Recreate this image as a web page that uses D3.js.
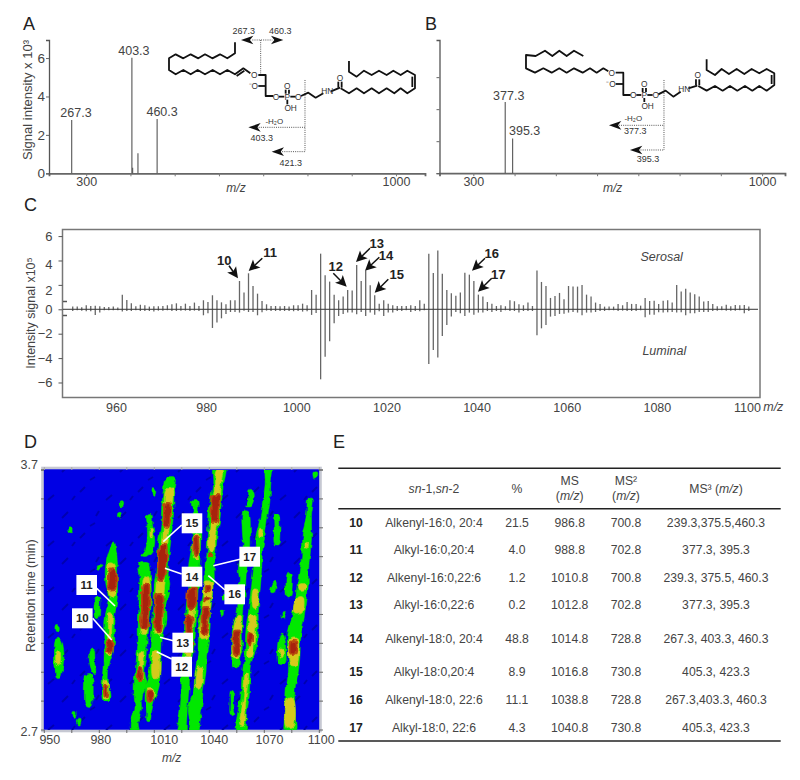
<!DOCTYPE html>
<html>
<head>
<meta charset="utf-8">
<script src="https://cdn.jsdelivr.net/npm/d3@7"></script>
<style>
body { margin: 0; background: #fff; }
svg { display: block; }
text { font-family: "Liberation Sans", Arial, sans-serif; fill: #444; }
</style>
</head>
<body>
<script>
// panel A and B spectra
let mzA = [267.3, 403.3, 405, 417, 460.3];
let intensityA = [2.78, 6.02, 0.29, 1.04, 2.83];
let peakLabelsA = ["267.3", "403.3", "", "", "460.3"];
let mzB = [377.3, 395.3];
let intensityB = [2.22, 1.08];
let peakLabelsB = ["377.3", "395.3"];
let ticksAB = [300, 400, 500, 600, 700, 800, 900, 1000];

// panel C, one value per nominal mass, starts at 950.4
let serosal = [.22,.22,.16,.33,.27,.30,.25,.19,.19,.22,.14,1.2,.77,.49,.25,.38,.33,.22,.25,.25,.27,.33,.41,.49,.27,.46,.27,.55,.27,.74,
  .60,1.15,.74,.57,.41,.74,.74,2.32,1.37,2.95,1.91,1.28,.68,.41,.27,.27,.25,.27,.22,.33,.33,.46,.33,1.58,1.2,4.56,2.79,2.27,1.2,.74,
  1.04,1.58,1.53,3.63,2.32,3.17,1.97,1.15,.46,.74,.46,.33,.27,.27,.27,.33,.27,.74,.46,4.56,2.98,4.81,2.92,1.58,1.31,1.12,1.37,3.0,2.84,2.32,
  1.2,1.04,.6,.46,.27,.33,.25,.74,.66,.41,.33,.55,.27,3.17,2.24,1.91,.93,1.09,1.34,.82,1.91,1.86,1.86,1.99,1.2,1.04,.55,.44,.22,.22,
  .22,.44,.33,.6,.44,.44,.3,.93,.68,.71,.44,.71,.74,.55,1.99,1.45,1.69,1.37,1.23,1.04,.63,.68,.44,.25,.25,.38,.25,.36,.33,.36,.22];
let luminal = [.14,.08,.11,.16,.16,.46,.27,.08,.08,.08,.08,.19,.14,.14,.08,.14,.14,.14,.19,.11,.11,.08,.14,.14,.11,.11,.14,.11,.14,.49,
  .33,1.53,1.09,.74,.38,.22,.22,.27,.11,.22,.22,.49,.25,.11,.14,.14,.14,.14,.14,.16,.14,.19,.16,.46,.3,5.74,3.88,2.62,1.15,.55,
  .38,.27,.27,.41,.22,.55,.27,.44,.16,.55,.27,.27,.14,.14,.08,.22,.14,.16,.08,4.48,3.33,3.96,2.19,1.28,.6,.22,.33,.55,.27,.44,
  .27,.27,.14,.22,.14,.22,.08,.14,.14,.27,.14,.14,.14,2.13,1.56,1.28,.6,.55,.38,.36,.27,.22,.27,.49,.27,.27,.22,.14,.14,.08,
  .08,.14,.11,.14,.14,.14,.08,.66,.44,.44,.25,.27,.25,.22,.27,.25,.49,.33,.33,.22,.22,.22,.14,.11,.08,.11,.11,.11,.08,.33,.14];
let ticksCx = [960, 980, 1000, 1020, 1040, 1060, 1080, 1100];
let ticksCy = [-6, -4, -2, 0, 2, 4, 6];

// panel D, contour outlines, each row is [rt, m/z left, m/z right]
let greenBands = [
  [[3.05,956.3,958.9],[3,955.4,960.7],[2.95,955.8,960.3],[2.9,956.7,958.5]],
  [[3.21,978.5,980],[3.18,977.2,980.3],[3.13,977.8,979.6]],
  [[3.01,975.8,977.2],[2.98,974,977.6],[2.95,974.5,978.1],[2.92,975.8,978.5]],
  [[2.91,973,975.8],[2.85,971.8,976.7],[2.79,973,975.8]],
  [[3.42,987.4,988.2],[3.38,984.9,989.4],[3.33,983.4,990],[3.27,983.4,990],[3.21,984.9,989.8],[3.17,984,989.1],[3.12,983,988],[3.05,983,988.5],[2.99,982.1,987.2],[2.95,982.1,985.4],[2.89,981.6,984.9],[2.82,981.6,985.8],[2.81,982.5,984.9]],
  [[3.53,1005.8,1008.5],[3.49,1006.1,1009],[3.43,1006.1,1010.3],[3.39,1004.9,1009.4],[3.37,1002.7,1006.7]],
  [[3.34,1001.8,1007.2],[3.29,1002.1,1008],[3.21,1001.8,1008.5],[3.1,1001.2,1007.2],[3.04,1001.2,1006.1],[2.98,1000.3,1005.4],[2.92,999.4,1004.3],[2.87,999,1005.8],[2.83,999,1003],[2.78,999.4,1003],[2.73,997,1001.2],[2.69,997.6,1001.6]],
  [[3.67,1016.3,1021.2],[3.62,1014.9,1020.7],[3.55,1014,1020.7],[3.49,1013.6,1020],[3.42,1012.1,1018.9],[3.36,1011.6,1018],[3.3,1010.7,1017.6],[3.26,1010,1018.5],[3.18,1009.8,1016.3],[3.12,1009,1016.3],[3.07,1008.5,1014.5],[3,1007.6,1014],[2.94,1007.6,1013.1],[2.87,1005.4,1012.7],[2.82,1004.9,1010.3],[2.77,1005.8,1008.5],[2.73,1006.1,1007.6]],
  [[3.58,1030.9,1033.5],[3.54,1031.3,1034],[3.48,1030.9,1035.3],[3.41,1030.4,1035.3],[3.35,1029.1,1034.9],[3.28,1028,1034.5],[3.23,1028.4,1033.8],[3.17,1027.3,1033.5],[3.1,1026.5,1032.7],[3.04,1025.8,1032],[2.99,1025.5,1030.9],[2.94,1024.9,1029.5],[2.87,1024.4,1029.1],[2.82,1024.5,1028.5],[2.78,1024,1028],[2.73,1023.1,1027.6],[2.69,1022.5,1026.7]],
  [[3.72,1042.6,1048.8],[3.64,1041.8,1047.6],[3.58,1040.4,1046.7],[3.51,1039.5,1045.8],[3.45,1038.9,1044.4],[3.39,1038.9,1043.6],[3.33,1037.6,1042.2],[3.28,1037.6,1042.2],[3.23,1036.7,1041.8],[3.15,1034.9,1040.7],[3.09,1034,1040.4],[3.04,1034,1039.5],[2.98,1033.5,1038.5],[2.92,1032.2,1038.2],[2.85,1031.3,1036.7],[2.78,1028.5,1035.8],[2.73,1029.5,1034.9],[2.69,1029.5,1034]],
  [[3.62,1061.8,1064],[3.59,1061.3,1064.4],[3.56,1060,1062.5]],
  [[3.54,1058.5,1061.3],[3.46,1058,1062.5],[3.4,1058.5,1062.5],[3.32,1055.8,1060.4],[3.28,1056.4,1060],[3.21,1055.3,1059.5],[3.14,1054.4,1058.5],[3.08,1052.5,1058],[3.01,1052.2,1058],[2.98,1052.2,1056.7],[2.94,1053.1,1055.8]],
  [[3.72,1071,1074.2],[3.64,1070.4,1073.5],[3.58,1069.1,1073.1],[3.51,1067.6,1071.6],[3.45,1065.5,1070.4],[3.39,1064.9,1069.1],[3.31,1064,1068.5],[3.23,1062.5,1067.6],[3.15,1061.3,1066.7],[3.09,1060,1066.7],[3.01,1059.5,1065.5],[2.95,1058.5,1062.5],[2.89,1057.6,1062.2],[2.82,1057.1,1061.6],[2.76,1055.3,1060.4],[2.69,1055.3,1059.5]],
  [[3.53,1075.5,1077.6],[3.48,1075.3,1078.5],[3.41,1075.8,1077.6]],
  [[3.27,1075.3,1076.4],[3.23,1073.5,1075.5]],
  [[3.3,1082.5,1084.9],[3.26,1081.8,1085.3],[3.21,1082.5,1084]],
  [[3.07,1078.9,1080.4],[3.01,1077.1,1081.8],[2.96,1077.6,1081.3]],
  [[2.85,1051.6,1053.1],[2.81,1051.3,1052.7],[2.76,1051.6,1053.1]],
  [[3.59,1094,1096.4],[3.53,1093.1,1095.8],[3.5,1092.2,1095.8],[3.44,1090.4,1095.8],[3.37,1090.4,1094.9],[3.31,1089.1,1094],[3.26,1088,1094],[3.19,1086.7,1093.1],[3.13,1084.9,1091.6],[3.05,1082.5,1089.8],[2.99,1083.1,1089.5],[2.92,1083.1,1088.5],[2.85,1081.8,1086.7],[2.77,1081.8,1086.7],[2.69,1081.8,1086.7]],
  [[3.15,1079.8,1081.2],[3.13,1080,1081]],
  [[3.22,1047,1048.2],[3.2,1047.1,1048]],
  [[3.16,1046.5,1047.5],[3.14,1046.6,1047.4]],
  [[3.695,1096.7,1099],[3.67,1097,1098.5]],
  [[3.48,963.5,965],[3.46,963.7,964.8]],
  [[3.335,979,981.3],[3.32,979.3,981]],
  [[3.58,991.5,993],[3.56,991.8,993]],
  [[3.54,990.5,991.8],[3.52,990,991.5]],
  [[3.63,1009,1010.5],[3.6,1009.2,1010.3]],
  [[2.77,965.8,967.2],[2.75,966,967]],
  [[2.74,967.6,969.4],[2.72,968,969]],
  [[3.1,956.6,958],[3.08,956.6,957.8]]
];
let yellowBands = [
  [[3,957,958.6],[2.95,957.3,958.3]],
  [[3.34,985.3,988.1],[3.28,984.4,989.4],[3.23,984.9,989],[3.21,986.2,988.3]],
  [[3.15,985.3,986.8],[3.08,984.9,986.8],[2.99,984.4,986.8]],
  [[2.89,982.9,984.3],[2.82,982.9,984.3]],
  [[3.47,1007.9,1008.7],[3.44,1007.9,1008.7]],
  [[3.29,1004,1006.8],[3.21,1003.1,1007.6],[3.1,1002.9,1006.5],[3.07,1002.9,1005.7]],
  [[3,1001.8,1003.9],[2.95,1001.6,1003.6],[2.89,1001.6,1003.2]],
  [[3.63,1016.7,1019.6],[3.55,1015.3,1019.6],[3.49,1014.9,1018.5],[3.43,1014.4,1017.2],[3.4,1013.1,1016.6],[3.33,1012,1016.3],[3.27,1011.6,1015.9],[3.18,1010.7,1014.8],[3.1,1010.2,1014.8],[3.07,1009.8,1013.6]],
  [[3,1009.8,1011.9],[2.9,1009.3,1012.3]],
  [[2.86,1006.5,1009.9],[2.81,1007.1,1009]],
  [[3.45,1032,1034.1],[3.36,1031.7,1033.8]],
  [[3.24,1029.5,1032.7],[3.17,1028.4,1032.3],[3.09,1027.7,1031.2],[3.01,1027.3,1030.5],[2.98,1027.7,1029.4]],
  [[3.7,1044,1046.9],[3.62,1042.6,1045.8],[3.51,1040.8,1045.1],[3.45,1039.9,1043.2],[3.39,1039.9,1042.7]],
  [[3.27,1037.5,1041.4],[3.19,1037.1,1040.9],[3.12,1035.3,1040],[3.05,1035.3,1038.5]],
  [[2.94,1033.5,1036.3],[2.86,1032.8,1035.6]],
  [[3.14,1055.3,1057.2],[3.08,1053.1,1057.2],[2.98,1053.1,1056]],
  [[3.47,1067.3,1069.1],[3.44,1067.3,1068.1]],
  [[3.24,1064,1066.3],[3.17,1064,1065.8]],
  [[3.14,1062.2,1065.1],[3.05,1061.7,1064.7],[2.98,1061.3,1063.2]],
  [[2.92,1059.9,1061.1],[2.82,1058.6,1060],[2.72,1056.8,1058.9]],
  [[3.01,1078.4,1080.1],[2.98,1078.9,1080.1]],
  [[3.42,1092.6,1094.1],[3.4,1092.4,1093.6]],
  [[3.26,1088.9,1092.7],[3.24,1088.9,1092.1]],
  [[3.21,1087.7,1091.2],[3.15,1086.2,1090.5]],
  [[3.05,1084.4,1088.1],[2.95,1084.4,1087.6]],
  [[2.82,1082.6,1085.8],[2.71,1082.6,1085.8]]
];
let redBands = [
  [[3.32,985.8,988.5],[3.28,985.2,989.4],[3.24,984.9,988.5]],
  [[3.05,984.7,986.5],[3,984.3,986.9]],
  [[2.87,982.9,984],[2.83,983,984]],
  [[3.26,1004,1006.7],[3.17,1003.2,1007.2],[3.09,1003,1005.8]],
  [[2.94,1001.4,1002.7],[2.89,1001.4,1002.5]],
  [[3.57,1015.8,1018.9],[3.53,1015.2,1018.9],[3.48,1015.2,1017.6]],
  [[3.41,1013.4,1016.3],[3.35,1012.1,1016.7],[3.28,1012.1,1015.2]],
  [[3.22,1011.2,1014.5],[3.14,1010.3,1014.5],[3.08,1010.7,1013.4]],
  [[2.85,1006.7,1009],[2.81,1006.7,1008.5]],
  [[3.44,1032,1033.5],[3.37,1032,1033.5]],
  [[3.25,1029.1,1032.4],[3.17,1028.9,1032]],
  [[3.14,1027.6,1030.5],[3.08,1027.5,1030.5],[3,1027.6,1030.2]],
  [[3.6,1041.6,1045.5],[3.55,1041.3,1045.1],[3.5,1041.3,1044]],
  [[3.38,1040,1041.5],[3.37,1040.2,1041.3]],
  [[3.25,1037.6,1040.4],[3.235,1037.8,1040.2]],
  [[3.21,1037.3,1040.4],[3.2,1037.5,1040.2]],
  [[3.17,1036.7,1040],[3.12,1035.8,1039.5],[3.07,1036.4,1038.2]],
  [[3.08,1053.5,1056.4],[3.03,1053.1,1056.4],[2.99,1053.6,1055.8]],
  [[3.07,1061.6,1063.1],[3.03,1061.3,1062.7]],
  [[3.04,1084.9,1087.3],[2.99,1084.9,1086.7]]
];
let ticksDx = [950, 980, 1010, 1040, 1070, 1100];

// panel E table
let rowIds = ["10","11","12","13","14","15","16","17"];
let rowSpecies = ["Alkenyl-16:0, 20:4","Alkyl-16:0,20:4","Alkenyl-16:0,22:6","Alkyl-16:0,22:6","Alkenyl-18:0, 20:4","Alkyl-18:0,20:4","Alkenyl-18:0, 22:6","Alkyl-18:0, 22:6"];
let rowPercent = ["21.5","4.0","1.2","0.2","48.8","8.9","11.1","4.3"];
let rowMs = ["986.8","988.8","1010.8","1012.8","1014.8","1016.8","1038.8","1040.8"];
let rowMs2 = ["700.8","702.8","700.8","702.8","728.8","730.8","728.8","730.8"];
let rowMs3 = ["239.3,375.5,460.3","377.3, 395.3","239.3, 375.5, 460.3","377.3, 395.3","267.3, 403.3, 460.3","405.3, 423.3","267.3,403.3, 460.3","405.3, 423.3"];

var svg = d3.select("body").append("svg").attr("width", 800).attr("height", 780);

var defs = svg.append("defs");
defs.append("clipPath").attr("id", "mapClip").append("rect")
  .attr("x", 44).attr("y", 470).attr("width", 275).attr("height", 260);
var dashes = defs.append("pattern").attr("id", "mapDash").attr("patternUnits", "userSpaceOnUse")
  .attr("width", 58).attr("height", 46);
[[4,12,10,6],[22,32,27,27],[38,10,41,5],[48,40,54,35],[14,40,17,36],[32,20,37,17]].forEach(function(d){
  dashes.append("line").attr("x1", d[0]).attr("y1", d[1]).attr("x2", d[2]).attr("y2", d[3])
    .attr("stroke", "#0000b0").attr("stroke-width", 2);
});
// rough contour edges like the scanned map
var rough = defs.append("filter").attr("id", "soft").attr("filterUnits", "userSpaceOnUse")
  .attr("x", 30).attr("y", 460).attr("width", 300).attr("height", 280);
rough.append("feTurbulence").attr("type", "fractalNoise").attr("baseFrequency", "0.17 0.12")
  .attr("numOctaves", 2).attr("seed", 4).attr("result", "n");
rough.append("feDisplacementMap").attr("in", "SourceGraphic").attr("in2", "n").attr("scale", 5)
  .attr("xChannelSelector", "R").attr("yChannelSelector", "G").attr("result", "d");
rough.append("feGaussianBlur").attr("in", "d").attr("stdDeviation", 0.5);

function txt(x, y, s, size, anchor) {
  return svg.append("text").attr("x", x).attr("y", y).attr("dy", "0.35em")
    .attr("font-size", size).attr("text-anchor", anchor || "middle").text(s);
}

// panel letters
[["A",23,30],["B",425,30],["C",24,211],["D",24,448],["E",333,448]].forEach(function(d){
  svg.append("text").attr("x", d[1]).attr("y", d[2]).attr("font-size", 18).style("fill", "#222").text(d[0]);
});

// ---- spectra A and B
function spectrum(xs, ys, mz, vals, ticksY) {
  var bottom = d3.axisBottom(xs).tickValues(ticksAB).tickSize(3).tickFormat(function(d){ return (d == 300 || d == 1000) ? d : ""; });
  var gx = svg.append("g").attr("transform", "translate(0," + ys(0) + ")").call(bottom);
  gx.select(".domain").attr("stroke", "#666").attr("stroke-width", 1.8);
  gx.selectAll("line").attr("stroke", "#777");
  gx.selectAll("text").attr("font-size", 12.5).attr("dy", "0.55em").style("fill", "#444");

  var left = d3.axisLeft(ys).tickValues(ticksY).tickSize(3).tickFormat("");
  var gy = svg.append("g").attr("transform", "translate(" + xs.range()[0] + ",0)").call(left);
  gy.select(".domain").attr("stroke", "#555").attr("stroke-width", 1.3);
  gy.selectAll("line").attr("stroke", "#666");

  svg.append("g").selectAll("line").data(mz).enter().append("line")
    .attr("x1", function(d){ return xs(d); }).attr("x2", function(d){ return xs(d); })
    .attr("y1", ys(0))
    .attr("y2", function(d, i){ return ys(vals[i]); })
    .attr("stroke", "#555").attr("stroke-width", 1.1);
}

var xA = d3.scaleLinear().domain([216, 1065.6]).range([49, 425]);
var yA = d3.scaleLinear().domain([0, 6.94]).range([173.3, 40]);
spectrum(xA, yA, mzA, intensityA, [0, 2, 4, 6]);
mzA.forEach(function(d, i){
  if (peakLabelsA[i]) {
    txt(xA(d) + (i == 0 ? 4.3 : i == 1 ? 2 : 5), yA(intensityA[i]) - 7, peakLabelsA[i], 12.5);
  }
});
txt(236, 188, "m/z", 12).style("font-style", "italic");
[0, 2, 4, 6].forEach(function(d){ txt(45, yA(d), d, 13.5, "end"); });

var xB = d3.scaleLinear().domain([218, 1055.6]).range([439.5, 785]);
var yB = d3.scaleLinear().domain([0, 4.16]).range([173.2, 40]);
spectrum(xB, yB, mzB, intensityB, [0, 1, 2, 3]);
txt(xB(377.3) + 3.5, yB(2.22) - 6, peakLabelsB[0], 12.5);
txt(xB(395.3) + 12, yB(1.08) - 7.5, peakLabelsB[1], 12.5);
txt(612.7, 188, "m/z", 12).style("font-style", "italic");

svg.append("text").attr("transform", "translate(27,100) rotate(-90)").attr("dy", "0.35em")
  .attr("font-size", 13).attr("text-anchor", "middle").text("Signal intensity x 10³");

// ---- structures, drawn in a local 3x frame
var zig = d3.line();
function structure(tx, ty, bonds, labels, dots, heads) {
  var g = svg.append("g").attr("transform", "translate(" + tx + "," + ty + ") scale(0.3333)");
  dots.forEach(function(d){
    g.append("path").attr("d", zig(d)).attr("fill", "none").attr("stroke", "#555")
      .attr("stroke-width", 3).attr("stroke-dasharray", "3 3.5");
  });
  bonds.forEach(function(d){
    g.append("path").attr("d", zig(d)).attr("fill", "none").attr("stroke", "#111")
      .attr("stroke-width", 5.4).attr("stroke-linejoin", "round");
  });
  heads.forEach(function(d){
    var x = d[0], y = d[1], s = d[2];
    g.append("path").attr("fill", "#111")
      .attr("d", "M" + x + "," + y + "L" + (x + s * 37) + "," + (y - 13) + "L" + (x + s * 27) + "," + y + "L" + (x + s * 37) + "," + (y + 13) + "Z");
  });
  labels.forEach(function(d){
    g.append("text").attr("x", d[0]).attr("y", d[1]).attr("dy", "0.35em").attr("text-anchor", "middle")
      .attr("font-size", d[3] || 27).style("fill", "#333").text(d[2]);
  });
}

structure(165, 25, [
  [[210,52],[210,85],[187,100],[165,88],[142,100],[120,88],[100,100],[77,88],[55,100],[32,88],[12,100],[12,135],[32,148],[55,135],[77,148],[98,135],[120,148],[143,135],[165,148],[187,135],[210,148],[235,130],[256,145]],
  [[215,153],[238,137]],
  [[280,150],[302,150],[302,213],[325,213]],
  [[280,183],[302,183]],
  [[342,215],[358,215]],[[376,215],[392,215]],
  [[362,194],[362,206]],[[372,194],[372,206]],[[367,224],[367,238]],
  [[408,213],[430,203],[452,218],[475,205]],
  [[498,199],[525,188]],[[520,170],[520,188]],[[530,170],[530,188]],
  [[527,190],[552,205],[575,190],[597,205],[620,190],[642,205],[665,190],[688,205],[707,190],[727,205],[750,190],[750,150],[727,137],[707,150],[685,137],[665,150],[642,137],[620,150],[597,137],[575,155],[552,140],[552,108]],
  [[742,155],[742,186]]
], [
  [236,17,"267.3"],[346,17,"460.3"],[268,150,"O",25],[265,183,"⁻O",25],[333,215,"O",25],[367,215,"P",25],[367,183,"O",25],
  [377,250,"OH",25],[400,215,"O",25],[487,198,"HN",25],[525,158,"O",25],[328,288,"-H₂O",24],[290,340,"403.3"],[377,413,"421.3"]
], [
  [[287,45],[287,145]],[[262,45],[322,45]],[[420,165],[420,380]],[[268,307],[420,307]],[[345,380],[420,380]]
], [
  [228,45,1],[355,45,-1],[250,307,1],[320,380,1]
]);

structure(420, 0, [
  [[490,168],[462,152],[440,168],[418,152],[397,168],[375,152],[347,168],[318,165],[318,205],[345,218],[370,205],[395,218],[418,205],[440,218],[462,205],[488,218],[510,205],[530,218],[550,205],[565,214]],
  [[587,218],[610,218],[610,285],[632,285]],
  [[587,252],[610,252]],
  [[649,285],[664,285]],[[682,285],[698,285]],
  [[668,264],[668,276]],[[678,264],[678,276]],[[673,294],[673,306]],
  [[715,283],[737,272],[760,290],[782,275]],
  [[805,265],[832,257]],[[828,238],[828,256]],[[838,238],[838,256]],
  [[835,258],[860,272],[885,258],[908,272],[930,258],[952,272],[975,258],[997,272],[1018,258],[1040,272],[1063,255],[1063,220],[1040,207],[1018,220],[995,207],[973,222],[950,207],[927,222],[905,207],[885,225],[860,210],[860,178]],
  [[1055,225],[1055,252]]
], [
  [575,218,"O",25],[573,252,"⁻O",25],[640,285,"O",25],[673,285,"P",25],[673,252,"O",25],[683,317,"OH",25],[707,285,"O",25],
  [793,267,"HN",25],[833,226,"O",25],[640,355,"-H₂O",24],[646,393,"377.3"],[684,478,"395.3"]
], [
  [[732,240],[732,450]],[[590,376],[732,376]],[[655,450],[732,450]]
], [
  [567,376,1],[630,450,1]
]);

// ---- panel C
var xC = d3.scaleLinear().domain([960, 1100]).range([116, 747]);
var yC = d3.scaleLinear().domain([-7.23, 6.54]).range([397.5, 229.5]);
var mzC = serosal.map(function(d, i){ return 950.4 + i; });

svg.append("rect").attr("x", 62.5).attr("y", 229.5).attr("width", 697.5).attr("height", 168)
  .attr("fill", "none").attr("stroke", "#777").attr("stroke-width", 1.5);

var gyC = svg.append("g").attr("transform", "translate(62.5,0)")
  .call(d3.axisLeft(yC).tickValues(ticksCy).tickSize(4));
gyC.select(".domain").remove();
gyC.selectAll("line").attr("stroke", "#555");
gyC.selectAll("text").attr("font-size", 13).attr("x", -10).style("fill", "#444")
  .attr("dy", function(d){ return d == 4 ? "0.6em" : d == 2 ? "0.75em" : "0.32em"; });

var xAxisC = d3.axisBottom(xC).tickValues(ticksCx).tickSize(0).tickFormat(d3.format("d"));
var gxC = svg.append("g").attr("transform", "translate(0,397.5)").call(xAxisC);
gxC.select(".domain").remove();
gxC.selectAll("text").attr("font-size", 12.5).attr("dy", "0.95em").style("fill", "#444");

svg.append("g").selectAll("line").data(mzC).enter().append("line")
  .attr("x1", function(d){ return xC(d); }).attr("x2", function(d){ return xC(d); })
  .attr("y1", yC(0))
  .attr("y2", function(d, i){ return yC(serosal[i]); })
  .attr("stroke", "#666").attr("stroke-width", 1.3);
svg.append("g").selectAll("line").data(mzC).enter().append("line")
  .attr("x1", function(d){ return xC(d); }).attr("x2", function(d){ return xC(d); })
  .attr("y1", yC(0))
  .attr("y2", function(d, i){ return yC(-luminal[i]); })
  .attr("stroke", "#666").attr("stroke-width", 1.3);
svg.append("line").attr("x1", 63).attr("x2", 758).attr("y1", yC(0)).attr("y2", yC(0))
  .attr("stroke", "#333").attr("stroke-width", 1);
[301.5, 315.5].forEach(function(y){
  svg.append("line").attr("x1", 63).attr("x2", 67).attr("y1", y).attr("y2", y).attr("stroke", "#555").attr("stroke-width", 1.5);
});

svg.append("text").attr("transform", "translate(30.7,313) rotate(-90)").attr("dy", "0.35em")
  .attr("font-size", 12.5).attr("text-anchor", "middle").text("Intensity signal x10⁵");
txt(661.7, 257, "Serosal", 12.5).style("font-style", "italic");
txt(664.3, 351, "Luminal", 12.5).style("font-style", "italic");
txt(773.3, 406.5, "m/z", 12.5).style("font-style", "italic");

// callouts on the peaks: label, arrow start, arrow tip
[["10",224.3,260,229,265.7,238,278.3],["11",270,252.7,262.3,258.3,248.7,271],["12",335.7,266.7,333.3,273.3,346.7,286.7],
 ["13",376.7,243.3,370,248.3,356,262],["14",386,255,379.3,257.3,365,270.7],["15",396.7,274.7,388.3,279.3,374.7,292.7],
 ["16",491.7,253.3,485,258.3,472,270.7],["17",498.3,274.7,491.7,278.3,478,291.7]].forEach(function(d){
  var ang = Math.atan2(d[6] - d[4], d[5] - d[3]);
  var deg = ang * 180 / Math.PI;
  svg.append("line").attr("x1", d[3]).attr("y1", d[4]).attr("x2", d[5] - 5 * Math.cos(ang)).attr("y2", d[6] - 5 * Math.sin(ang))
    .attr("stroke", "#111").attr("stroke-width", 1.5);
  svg.append("path").attr("d", "M0,0L-11,-5.5L-8.5,0L-11,5.5Z").attr("fill", "#111")
    .attr("transform", "translate(" + d[5] + "," + d[6] + ") rotate(" + deg + ")");
  txt(d[1], d[2], d[0], 13).attr("font-weight", "bold").style("fill", "#222");
});

// ---- panel D
var xD = d3.scaleLinear().domain([950, 1100]).range([44.3, 319.3]);
var yD = d3.scaleLinear().domain([3.7, 2.7]).range([470, 730]);

svg.append("rect").attr("x", 42.5).attr("y", 468).attr("width", 278).attr("height", 263)
  .attr("fill", "#0000e4").attr("stroke", "#c6c8d2").attr("stroke-width", 2.6);
svg.append("rect").attr("x", 44).attr("y", 470).attr("width", 275).attr("height", 260).attr("fill", "url(#mapDash)");

var band = d3.line()
  .x(function(d){ return xD(d[0]); })
  .y(function(d){ return yD(d[1]); })
  .curve(d3.curveCatmullRomClosed.alpha(0.5));
function outline(rows) {
  var l = rows.map(function(r){ return [r[1], r[0]]; });
  var r = rows.map(function(r){ return [r[2], r[0]]; }).reverse();
  return band(l.concat(r));
}
var mapG = svg.append("g").attr("clip-path", "url(#mapClip)").append("g").attr("filter", "url(#soft)");
[[greenBands, "#00e800", "#00dc00", 0.5], [yellowBands, "#d6ca1c", "#9cd818", 0.7], [redBands, "#a82408", "#b8480c", 1.8]].forEach(function(d){
  mapG.append("g").selectAll("path").data(d[0]).enter().append("path")
    .attr("d", outline).attr("fill", d[1]).attr("stroke", d[2]).attr("stroke-width", d[3]);
});

var tickRt = d3.range(0, 10).map(function(i){ return 2.7 + i * 0.1111; }).concat([3.7]);
var tickMz = d3.range(0, 11).map(function(i){ return 950 + i * 15; });
var gTicks = svg.append("g").attr("stroke", "#666").attr("stroke-width", 1);
tickMz.forEach(function(d){
  gTicks.append("line").attr("x1", xD(d)).attr("x2", xD(d)).attr("y1", 730).attr("y2", 733);
  gTicks.append("line").attr("x1", xD(d)).attr("x2", xD(d)).attr("y1", 467).attr("y2", 470).attr("stroke", "#aaa");
});
tickRt.forEach(function(d){
  gTicks.append("line").attr("x1", 41).attr("x2", 44).attr("y1", yD(d)).attr("y2", yD(d));
  gTicks.append("line").attr("x1", 319).attr("x2", 323).attr("y1", yD(d)).attr("y2", yD(d));
});

var gxD = svg.append("g").attr("transform", "translate(0,733)")
  .call(d3.axisBottom(xD).tickValues(ticksDx).tickSize(0).tickFormat(d3.format("d")));
gxD.select(".domain").remove();
var nudgeD = { 950: 5, 980: 1, 1010: 9.4, 1040: 4.4, 1070: 4.7, 1100: 1.4 };
gxD.selectAll("text").attr("font-size", 12.5).attr("dy", "0.62em").style("fill", "#444")
  .attr("dx", function(d){ return nudgeD[d]; });
txt(38, 465, "3.7", 12.5, "end");
txt(38, 731.5, "2.7", 12.5, "end");
svg.append("text").attr("transform", "translate(31,595.7) rotate(-90)").attr("dy", "0.35em")
  .attr("font-size", 12.5).attr("text-anchor", "middle").text("Retention time (min)");
txt(171.7, 758, "m/z", 12).style("font-style", "italic");

// labelled spots: text, box centre, leader start, leader end
[["15",192,523.3,181.7,525,163.3,541.7],["14",192,576.7,181.7,574,165,568.3],["17",249.7,556.7,240,559.3,213.3,565.7],
 ["16",234.7,594.3,225,590,208.3,575.7],["11",86.7,585,96.7,588.3,115,606],["10",82.3,618.3,92.7,618.3,111.7,640],
 ["13",182.7,642.7,173.3,640.7,160,637.3],["12",181.7,666.7,171.7,659,156.7,651.7]].forEach(function(d){
  svg.append("line").attr("x1", d[3]).attr("y1", d[4]).attr("x2", d[5]).attr("y2", d[6])
    .attr("stroke", "#fff").attr("stroke-width", 1.6);
  svg.append("rect").attr("x", d[1] - 10.3).attr("y", d[2] - 10).attr("width", 20.6).attr("height", 20).attr("fill", "#fff");
  txt(d[1], d[2], d[0], 11.5).attr("font-weight", "bold").style("fill", "#222");
});

// ---- panel E
[468.3, 508.7, 741].forEach(function(y){
  svg.append("line").attr("x1", 338.3).attr("x2", 780.7).attr("y1", y).attr("y2", y)
    .attr("stroke", "#222").attr("stroke-width", 1.6);
});
var fontE = 12.2;
function mz2(x, y) {
  var t = txt(x, y, "(", fontE);
  t.append("tspan").style("font-style", "italic").text("m/z");
  t.append("tspan").text(")");
}
var hd = txt(434, 488.3, "", fontE);
hd.append("tspan").style("font-style", "italic").text("sn");
hd.append("tspan").text("-1,");
hd.append("tspan").style("font-style", "italic").text("sn");
hd.append("tspan").text("-2");
txt(517, 488.3, "%", fontE);
txt(569.7, 480.7, "MS", fontE);
mz2(569.7, 495.7);
txt(626, 480.7, "MS²", fontE);
mz2(626, 495.7);
var h3 = txt(716, 488.3, "MS³ (", fontE);
h3.append("tspan").style("font-style", "italic").text("m/z");
h3.append("tspan").text(")");

var rowY = d3.scaleOrdinal().domain(rowIds).range([522.7, 550, 577.7, 605, 638.7, 671.7, 699.3, 727.3]);
var tableCols = [[rowSpecies, 434], [rowPercent, 517], [rowMs, 569.7], [rowMs2, 626], [rowMs3, 716]];
rowIds.forEach(function(id, i){
  txt(356, rowY(id), id, fontE).attr("font-weight", "bold").style("fill", "#222");
  tableCols.forEach(function(c){ txt(c[1], rowY(id), c[0][i], fontE); });
});
</script>
</body>
</html>
